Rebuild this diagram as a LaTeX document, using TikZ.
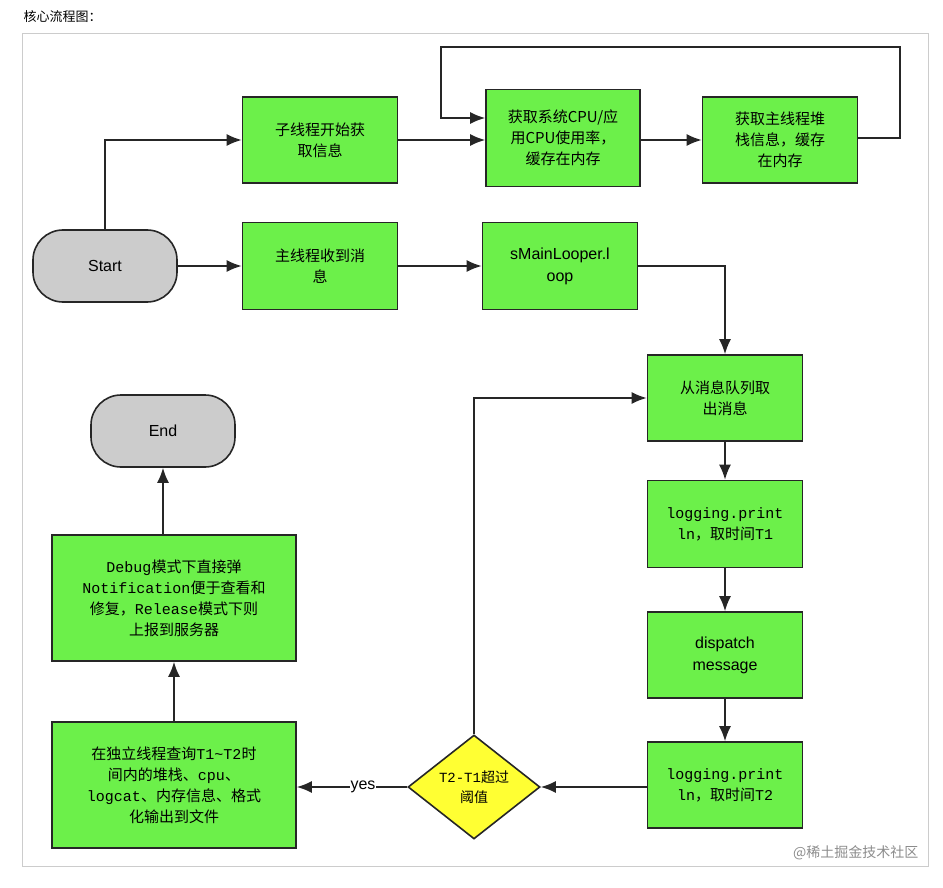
\documentclass[tikz,border=0pt]{standalone}
\usepackage{fontspec}
\setmainfont{Noto Sans CJK SC}
\newfontfamily\mono{Liberation Mono}
\newfontfamily\sansl{Liberation Sans}
\usetikzlibrary{arrows.meta,shapes.geometric}
\definecolor{gr}{HTML}{6CF04A}
\definecolor{tg}{HTML}{CCCCCC}
\definecolor{yl}{HTML}{FFFF33}
\begin{document}
\begin{tikzpicture}[x=1pt,y=-1pt,
 box/.style={draw=black!85,line width=1.6pt,fill=gr,minimum width=155pt,minimum height=86pt,align=center,font=\fontsize{15}{21}\selectfont,inner sep=2pt},
 term/.style={draw=black!85,line width=1.6pt,fill=tg,rounded corners=30pt,minimum width=144pt,minimum height=72pt,font=\sansl\fontsize{16}{19}\selectfont},
 ar/.style={line width=1.6pt,draw=black!85,-{Latex[length=15pt,width=12pt]}}]
\useasboundingbox (0,0) rectangle (943,888);
\node[anchor=west,font=\fontsize{13}{15}\selectfont] (title) at (20,17) {核心流程图：};
\draw[black!20,line width=0.8pt] (22,33) rectangle (928,866);
\node[term] (start) at (105,266) {Start};
\node[term] (end) at (163,431) {End};
\node[box] (sub) at (320,140) {子线程开始获\\取信息};
\node[box,minimum width=154pt,minimum height=97pt] (cpu) at (563,138) {获取系统CPU/应\\用CPU使用率，\\缓存在内存};
\node[box] (stack) at (780,140) {获取主线程堆\\栈信息，缓存\\在内存};
\node[box,minimum height=87pt] (msg) at (320,266) {主线程收到消\\息};
\node[box,minimum height=87pt,font=\sansl\fontsize{16}{22}\selectfont] (loop) at (560,266) {sMainLooper.l\\oop};
\node[box] (q) at (725,398) {从消息队列取\\出消息};
\node[box,minimum height=87pt] (t1) at (725,524) {{\mono logging.print}\\{\mono ln}，取时间{\mono T1}};
\node[box,font=\sansl\fontsize{16}{22}\selectfont] (disp) at (725,655) {dispatch\\message};
\node[box] (t2) at (725,785) {{\mono logging.print}\\{\mono ln}，取时间{\mono T2}};
\node[draw=black!85,line width=1.6pt,fill=yl,diamond,minimum width=132pt,minimum height=104pt,inner sep=0pt,align=center,font=\fontsize{14}{20}\selectfont] (dia) at (474,787) {{\mono T2-T1}超过\\阈值};
\node[box,minimum width=244pt,minimum height=126pt] (query) at (174,785) {在独立线程查询{\mono T1\~{}T2}时\\间内的堆栈、{\mono cpu}、\\{\mono logcat}、内存信息、格式\\化输出到文件};
\node[box,minimum width=244pt,minimum height=126pt] (dbg) at (174,598) {{\mono Debug}模式下直接弹\\{\mono Notification}便于查看和\\修复，{\mono Release}模式下则\\上报到服务器};
\coordinate (a1) at (105,140);
\draw[ar] (start.north) -- (a1) -- (sub.west);
\draw[ar] (sub.east) -- (sub.east -| cpu.west);
\draw[ar] (cpu.east |- sub.east) -- (stack.west);
\coordinate (b1) at (900,138);\coordinate (b2) at (900,47);\coordinate (b3) at (441,47);\coordinate (b4) at (441,118);
\draw[ar] (stack.east |- b1) -- (b1) -- (b2) -- (b3) -- (b4) -- (b4 -| cpu.west);
\draw[ar] (start.east) -- (msg.west);
\draw[ar] (msg.east) -- (loop.west);
\coordinate (c1) at (725,266);
\draw[ar] (loop.east) -- (c1) -- (q.north);
\draw[ar] (q) -- (t1);
\draw[ar] (t1) -- (disp);
\draw[ar] (disp) -- (t2);
\draw[ar] (t2.west |- dia.east) -- (dia.east);
\coordinate (d1) at (474,398);
\draw[ar] (dia.north) -- (d1) -- (q.west);
\draw[ar] (dia.west) -- node[fill=white,inner sep=1pt,font=\sansl\fontsize{16}{18}\selectfont,pos=0.4]{yes} (query.east |- dia.west);
\draw[ar] (query) -- (dbg);
\draw[ar] (dbg.north -| end) -- (end);
\node[anchor=east,text=black!45,font=\fontsize{14}{16}\selectfont] (wm) at (922,853) {@稀土掘金技术社区};
\end{tikzpicture}
\end{document}
